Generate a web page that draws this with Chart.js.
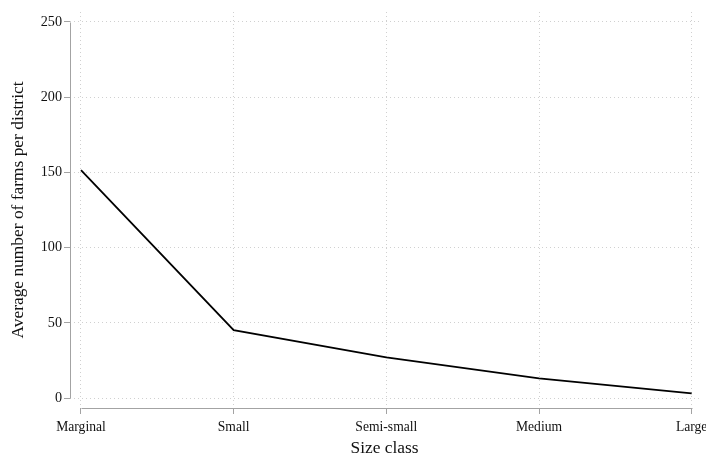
<!DOCTYPE html>
<html>
<head>
<meta charset="utf-8">
<script src="https://cdn.jsdelivr.net/npm/chart.js@4/dist/chart.umd.min.js"></script>
<style>
  html, body { margin: 0; padding: 0; background: #fff; }
  #wrap { width: 706px; height: 455px; }
</style>
</head>
<body>
<div id="wrap"><canvas id="c" width="706" height="455"></canvas></div>
<script>
// Farm size classes and average number of farms per district
const sizeClasses = ['Marginal', 'Small', 'Semi-small', 'Medium', 'Large'];
const avgFarms = [151.5, 45.2, 27.0, 13.1, 3.1];
const yTicks = [0, 50, 100, 150, 200, 250];

const SERIF = "'Liberation Serif', 'Times New Roman', serif";
const AXIS_GREY = '#a3a3a3';

// Stata-style axis lines that only span the tick range, detached at the corner
const axisLines = {
  id: 'axisLines',
  afterDraw(chart) {
    const { ctx, chartArea, scales: { x, y } } = chart;
    ctx.save();
    ctx.strokeStyle = AXIS_GREY;
    ctx.lineWidth = 1;
    ctx.beginPath();
    const lx = Math.round(chartArea.left) + 0.5;
    ctx.moveTo(lx, Math.round(y.getPixelForValue(yTicks[0])) + 0.5);
    ctx.lineTo(lx, Math.round(y.getPixelForValue(yTicks[yTicks.length - 1])) + 0.5);
    const by = Math.round(chartArea.bottom) + 0.5;
    ctx.moveTo(Math.round(x.getPixelForValue(0)) + 0.5, by);
    ctx.lineTo(Math.round(x.getPixelForValue(sizeClasses.length - 1)) + 0.5, by);
    ctx.stroke();
    ctx.restore();
  }
};

new Chart(document.getElementById('c'), {
  type: 'line',
  data: {
    datasets: [{
      data: avgFarms.map((v, i) => ({ x: i, y: v })),
      borderColor: '#000',
      borderWidth: 1.8,
      pointRadius: 0,
      tension: 0,
      fill: false
    }]
  },
  options: {
    responsive: false,
    animation: false,
    events: [],
    layout: { padding: { top: 12, right: 7, left: 0, bottom: 0 } },
    plugins: { legend: { display: false }, tooltip: { enabled: false } },
    scales: {
      x: {
        type: 'linear',
        min: -0.072,
        max: sizeClasses.length - 1 + 0.048,
        afterBuildTicks: s => { s.ticks = sizeClasses.map((_, i) => ({ value: i })); },
        afterFit: s => { s.height = 47; s.paddingLeft = 0; s.paddingRight = 0; },
        grid: {
          color: '#d0d0d0',
          lineWidth: 1,
          tickColor: AXIS_GREY,
          tickLength: 6,
          tickBorderDash: []
        },
        border: { display: false, dash: [1, 3] },
        ticks: {
          autoSkip: false,
          maxRotation: 0,
          padding: 5,
          color: '#111',
          font: { family: SERIF, size: 13.6 },
          callback: v => sizeClasses[v]
        },
        title: {
          display: true,
          text: 'Size class',
          color: '#111',
          font: { family: SERIF, size: 17.4, lineHeight: 1 },
          padding: { top: 0, bottom: -2 }
        }
      },
      y: {
        type: 'linear',
        min: -6.6,
        max: 256.6,
        afterBuildTicks: s => { s.ticks = yTicks.map(v => ({ value: v })); },
        afterFit: s => { s.width = 70; s.paddingTop = 0; s.paddingBottom = 0; },
        grid: {
          color: '#d0d0d0',
          lineWidth: 1,
          tickColor: AXIS_GREY,
          tickLength: 6,
          tickBorderDash: []
        },
        border: { display: false, dash: [1, 3] },
        ticks: {
          padding: 2,
          color: '#111',
          font: { family: SERIF, size: 14.2 }
        },
        title: {
          display: true,
          text: 'Average number of farms per district',
          color: '#111',
          font: { family: SERIF, size: 17.4, lineHeight: 1 },
          padding: { top: 10, bottom: 0 }
        }
      }
    }
  },
  plugins: [axisLines]
});
</script>
</body>
</html>
